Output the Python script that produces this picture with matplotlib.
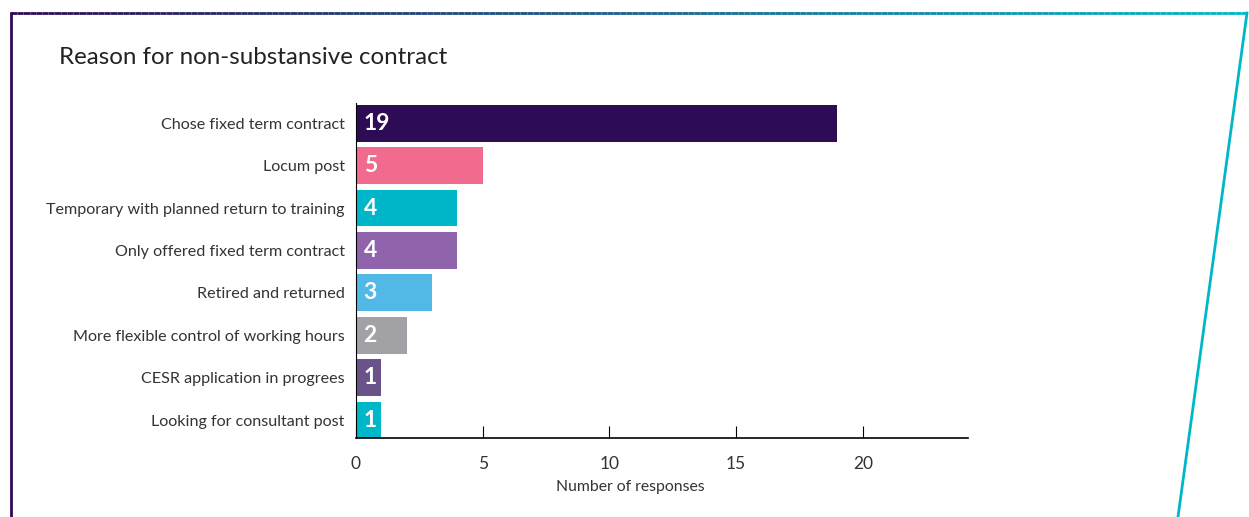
import numpy as np
import matplotlib.pyplot as plt
from matplotlib.lines import Line2D
from matplotlib.collections import LineCollection

reasons = [
    "Chose fixed term contract",
    "Locum post",
    "Temporary with planned return to training",
    "Only offered fixed term contract",
    "Retired and returned",
    "More flexible control of working hours",
    "CESR application in progrees",
    "Looking for consultant post",
]
counts = [19, 5, 4, 4, 3, 2, 1, 1]
colors = ["#2d0b55", "#f06b8e", "#00b7c9", "#9063ad", "#52b9e7", "#a2a2a6", "#6a528a", "#00b7c9"]

plt.rcParams['font.family'] = ['Lato', 'DejaVu Sans']

fig = plt.figure(figsize=(12.49, 5.17), dpi=100)
ax = fig.add_axes([0.285, 0.153, 0.49, 0.648])

y = np.arange(len(reasons))
ax.barh(y, counts, height=0.87, color=colors)
for yi, c in zip(y, counts):
    ax.text(0.3, yi, str(c), color="white", fontsize=16.5, fontweight="bold",
            va="center", ha="left")

ax.set_yticks(y)
ax.set_yticklabels(reasons, fontsize=11.6, color="#333333")
ax.set_ylim(len(reasons) - 0.58, -0.48)
ax.set_xlim(0, 24.15)
ax.set_xticks([0, 5, 10, 15, 20])
ax.tick_params(axis="x", direction="in", length=9, width=0.8, labelsize=12.5,
               labelcolor="#333333", pad=13)
ax.tick_params(axis="y", length=0, pad=8)
ax.spines["top"].set_visible(False)
ax.spines["right"].set_visible(False)
ax.spines["left"].set_linewidth(0.8)
ax.spines["bottom"].set_linewidth(1.2)
ax.set_xlabel("Number of responses", fontsize=11.3, color="#333333")
ax.xaxis.set_label_coords(0.448, -0.125)

fig.text(59 / 1249, 1 - 57 / 517, "Reason for non-substansive contract",
         fontsize=17.4, color="#222222", va="center", ha="left")

# frame: left purple edge, gradient top edge, slanted cyan right edge
W, H = 1249, 517
fig.add_artist(Line2D([11 / W, 11 / W], [0, 1 - 13 / H], transform=fig.transFigure,
                      color="#2d0b55", lw=2))
xs = np.linspace(11, 1247, 200)
segs = [[(xs[i] / W, 1 - 13 / H), (xs[i + 1] / W, 1 - 13 / H)] for i in range(len(xs) - 1)]
c0 = np.array([0x2d, 0x0b, 0x55]) / 255
c1 = np.array([0x00, 0xb7, 0xc9]) / 255
t = np.linspace(0, 1, len(segs))
seg_colors = [c0 + (c1 - c0) * ti for ti in t]
fig.add_artist(LineCollection(segs, colors=seg_colors, linewidths=2, transform=fig.transFigure))
fig.add_artist(Line2D([1247 / W, 1178 / W], [1 - 13 / H, 0], transform=fig.transFigure,
                      color="#00b7c9", lw=2))

fig.savefig("out.png", dpi=100)
